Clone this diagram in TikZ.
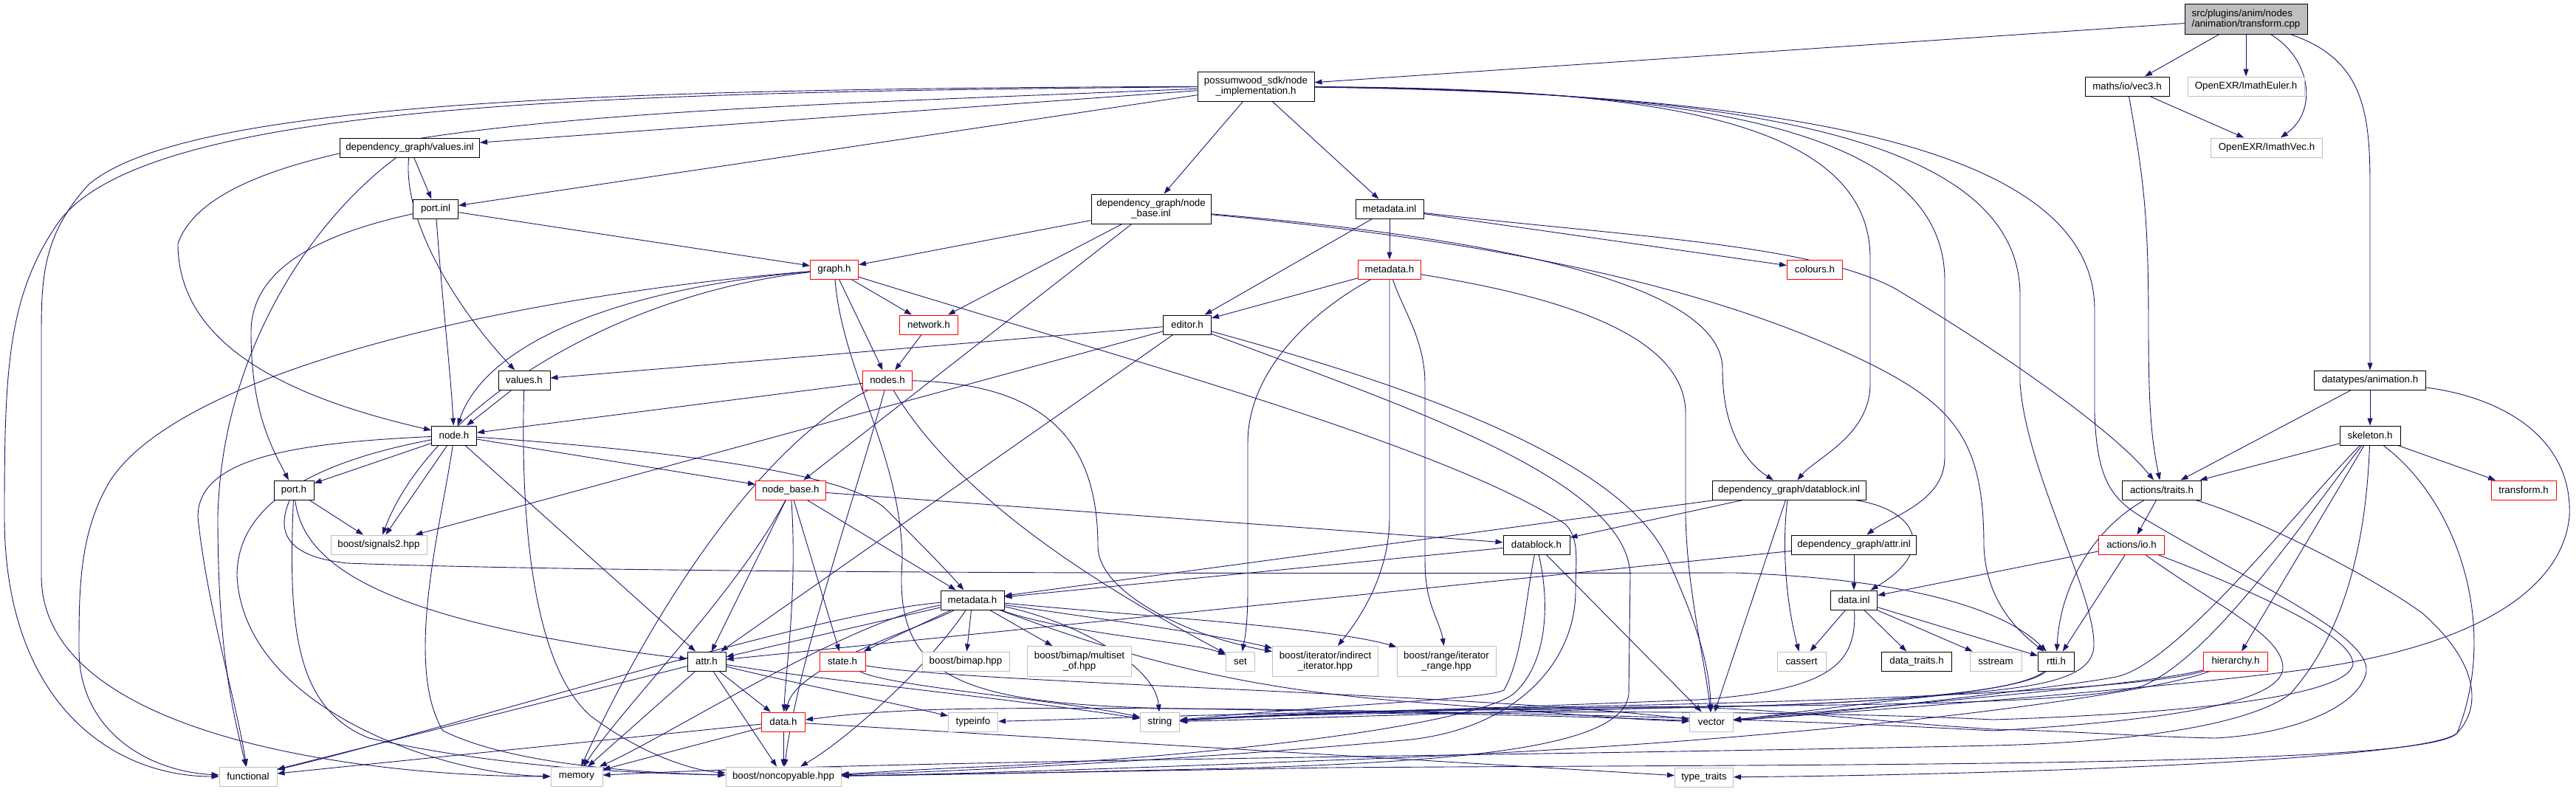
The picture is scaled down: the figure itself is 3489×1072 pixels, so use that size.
\documentclass[tikz,border=0pt]{standalone}
\usepackage{fontspec}
\setmainfont{Liberation Sans}
\usetikzlibrary{arrows.meta}
\definecolor{mblue}{HTML}{191970}
\definecolor{lgray}{HTML}{BFBFBF}
\definecolor{rootfill}{HTML}{BFBFBF}
\pgfdeclarelayer{back}
\pgfdeclarelayer{bg}
\pgfsetlayers{back,bg,main}
\newcommand{\nfont}{\fontsize{13.33pt}{14.5pt}\selectfont}
\begin{document}
\begin{tikzpicture}[x=1pt,y=-1pt,
  nb/.style={rectangle, inner sep=0pt, fill=white, font=\nfont, align=center, line width=1pt},
  blk/.style={nb, draw=black},
  gry/.style={nb, draw=lgray},
  rd/.style={nb, draw=red},
  sz/.style 2 args={minimum width=#1pt, minimum height=#2pt},
  edg/.style={draw=mblue, line width=0.9pt, -{Triangle[length=10pt,width=7pt]}}]
\begin{pgfonlayer}{back}
\fill[white] (0,0) rectangle (3489,1072);
\end{pgfonlayer}
\useasboundingbox (0,0) rectangle (3489,1072);
% nodes
\node[blk, fill=rootfill, sz={166}{41}, align=left] (root) at (3042,26) {src/plugins/anim/nodes\\/animation/transform.cpp};
\node[blk, sz={158}{40}] (nimpl) at (1701,117) {possumwood\_sdk/node\\\_implementation.h};
\node[blk, sz={114}{26}] (vec3) at (2881,117) {maths/io/vec3.h};
\node[gry, sz={158}{26}] (euler) at (3042,117) {OpenEXR/ImathEuler.h};
\node[gry, sz={151}{26}] (imathvec) at (3070,200) {OpenEXR/ImathVec.h};
\node[blk, sz={189}{26}] (valinl) at (555,200) {dependency\_graph/values.inl};
\node[blk, sz={61}{26}] (portinl) at (590,283) {port.inl};
\node[blk, sz={162}{40}] (nbinl) at (1559,283) {dependency\_graph/node\\\_base.inl};
\node[blk, sz={92}{26}] (mdinl) at (1882,283) {metadata.inl};
\node[rd, sz={65}{26}] (graph) at (1130,365) {graph.h};
\node[rd, sz={85}{26}] (mdh) at (1882,365) {metadata.h};
\node[rd, sz={75}{26}] (colours) at (2458,365) {colours.h};
\node[rd, sz={79}{26}] (network) at (1258,440) {network.h};
\node[blk, sz={65}{26}] (editor) at (1608,440) {editor.h};
\node[blk, sz={70}{26}] (values) at (710,515) {values.h};
\node[rd, sz={67}{26}] (nodes) at (1202,515) {nodes.h};
\node[blk, sz={151}{26}] (anim) at (3210,515) {datatypes/animation.h};
\node[blk, sz={61}{26}] (nodeh) at (615,590) {node.h};
\node[blk, sz={82}{26}] (skel) at (3210,590) {skeleton.h};
\node[blk, sz={54}{26}] (porth) at (398,664) {port.h};
\node[rd, sz={95}{26}] (nbh) at (1071,664) {node\_base.h};
\node[blk, sz={208}{26}] (dbinl) at (2423,664) {dependency\_graph/datablock.inl};
\node[blk, sz={107}{26}] (traits) at (2928,664) {actions/traits.h};
\node[rd, sz={88}{26}] (transh) at (3418,664) {transform.h};
\node[gry, sz={130}{26}] (sig2) at (513,738) {boost/signals2.hpp};
\node[blk, sz={90}{26}] (dbh) at (2081,738) {datablock.h};
\node[blk, sz={169}{26}] (attrinl) at (2511,738) {dependency\_graph/attr.inl};
\node[rd, sz={89}{26}] (ioh) at (2887,738) {actions/io.h};
\node[blk, sz={86}{26}] (md2) at (1317,813) {metadata.h};
\node[blk, sz={63}{26}] (datainl) at (2511,813) {data.inl};
\node[blk, sz={52}{26}] (attrh) at (957,896) {attr.h};
\node[rd, sz={62}{26}] (state) at (1141,896) {state.h};
\node[gry, sz={118}{26}] (bimap) at (1308,896) {boost/bimap.hpp};
\node[gry, sz={141}{41}] (multiset) at (1462,896) {boost/bimap/multiset\\\_of.hpp};
\node[gry, sz={39}{26}] (set) at (1680,896) {set};
\node[gry, sz={143}{41}] (indirect) at (1795,896) {boost/iterator/indirect\\\_iterator.hpp};
\node[gry, sz={134}{41}] (range) at (1959,896) {boost/range/iterator\\\_range.hpp};
\node[gry, sz={66}{26}] (cassert) at (2440,896) {cassert};
\node[blk, sz={95}{26}] (dtraits) at (2596,896) {data\_traits.h};
\node[gry, sz={70}{26}] (sstream) at (2703,896) {sstream};
\node[blk, sz={49}{26}] (rtti) at (2785,896) {rtti.h};
\node[rd, sz={87}{26}] (hier) at (3028,896) {hierarchy.h};
\node[rd, sz={59}{26}] (datah) at (1061,978) {data.h};
\node[gry, sz={67}{26}] (typeinfo) at (1318,978) {typeinfo};
\node[gry, sz={53}{26}] (string) at (1571,978) {string};
\node[gry, sz={59}{26}] (vector) at (2318,978) {vector};
\node[gry, sz={78}{26}] (functional) at (336,1052) {functional};
\node[gry, sz={70}{26}] (memory) at (781,1052) {memory};
\node[gry, sz={156}{26}] (noncopy) at (1061,1052) {boost/noncopyable.hpp};
\node[gry, sz={79}{26}] (typetraits) at (2308,1053) {type\_traits};
\begin{pgfonlayer}{bg}
% root
\draw[edg] (root) -- (nimpl);
\draw[edg] (root) -- (vec3);
\draw[edg] (root) -- (euler);
\draw[edg] (root) .. controls (3130,80) and (3140,150) .. (imathvec);
\draw[edg] (root) .. controls (3200,80) and (3210,150) .. (3210,250) -- (anim);
% vec3
\draw[edg] (vec3) -- (imathvec);
\draw[edg] (vec3) .. controls (2905,250) and (2910,300) .. (2910,450) .. controls (2910,560) and (2915,600) .. (traits);
% nimpl
\draw[edg] (nimpl) -- (valinl);
\draw[edg] (nimpl) -- (portinl);
\draw[edg] (nimpl) .. controls (900,150) and (300,160) .. (241,330) .. controls (241,480) and (420,545) .. (nodeh);
\draw[edg] (nimpl) .. controls (800,125) and (200,140) .. (80,300) .. controls (10,400) and (6,500) .. (6,700) .. controls (6,950) and (150,1052) .. (functional);
\draw[edg] (nimpl) .. controls (800,120) and (250,140) .. (120,250) .. controls (56,320) and (56,380) .. (56,460) -- (56,780) .. controls (56,1000) and (500,1052) .. (memory);
\draw[edg] (nimpl) -- (nbinl);
\draw[edg] (nimpl) -- (mdinl);
\draw[edg] (nimpl) .. controls (2200,120) and (2533,150) .. (2533,350) -- (2533,520) .. controls (2533,590) and (2460,620) .. (dbinl);
\draw[edg] (nimpl) .. controls (2250,122) and (2634,160) .. (2634,380) -- (2634,620) .. controls (2634,680) and (2560,700) .. (attrinl);
\draw[edg] (nimpl) .. controls (2300,124) and (2736,170) .. (2736,400) -- (2736,520) .. controls (2745,640) and (2836,800) .. (2836,873) .. controls (2836,915) and (2780,930) .. (2650,940) .. controls (2500,955) and (2400,970) .. (vector);
\draw[edg] (nimpl) .. controls (2350,126) and (2837,180) .. (2837,420) -- (2837,560) .. controls (2840,650) and (2860,675) .. (2900,700) .. controls (3050,790) and (3210,860) .. (3205,910) .. controls (3195,960) and (3100,995) .. (3000,1000) .. controls (2900,998) and (2800,990) .. (2700,988) .. controls (2500,975) and (2400,958) .. (2250,958) .. controls (1900,960) and (1700,970) .. (string);
% valinl, portinl
\draw[edg] (valinl) -- (portinl);
\draw[edg] (valinl) .. controls (545,300) and (620,420) .. (values);
\draw[edg] (valinl) .. controls (420,300) and (300,480) .. (295,700) .. controls (295,900) and (320,980) .. (functional);
\draw[edg] (portinl) -- (graph);
\draw[edg] (portinl) .. controls (420,320) and (340,370) .. (340,450) .. controls (340,560) and (370,610) .. (porth);
\draw[edg] (portinl) .. controls (600,420) and (610,500) .. (nodeh);
% nbinl
\draw[edg] (nbinl) -- (graph);
\draw[edg] (nbinl) -- (network);
\draw[edg] (nbinl) -- (nbh);
\draw[edg] (nbinl) .. controls (2000,320) and (2333,380) .. (2333,500) .. controls (2333,590) and (2370,630) .. (dbinl);
\draw[edg] (nbinl) .. controls (2000,325) and (2300,380) .. (2527,490) .. controls (2650,550) and (2687,600) .. (2687,740) .. controls (2690,820) and (2740,860) .. (rtti);
% mdinl
\draw[edg] (mdinl) -- (mdh);
\draw[edg] (mdinl) -- (editor);
\draw[edg] (mdinl) -- (colours);
\draw[edg] (mdinl) .. controls (2200,320) and (2450,330) .. (2565,390) .. controls (2700,470) and (2860,580) .. (traits);
% mdh
\draw[edg] (mdh) -- (editor);
\draw[edg] (mdh) .. controls (1780,420) and (1690,500) .. (1690,600) -- (1690,800) .. controls (1690,850) and (1685,870) .. (set);
\draw[edg] (mdh) -- (1882,700) .. controls (1882,780) and (1840,840) .. (indirect);
\draw[edg] (mdh) .. controls (1900,420) and (1930,460) .. (1930,520) -- (1930,760) .. controls (1930,820) and (1950,840) .. (range);
\draw[edg] (mdh) .. controls (2100,400) and (2283,450) .. (2283,560) -- (2283,700) .. controls (2285,800) and (2310,900) .. (vector);
% graph
\draw[edg] (graph) -- (network);
\draw[edg] (graph) -- (nodes);
\draw[edg] (graph) .. controls (850,390) and (660,460) .. (nodeh);
\draw[edg] (graph) .. controls (820,400) and (580,560) .. (sig2);
\draw[edg] (graph) .. controls (700,400) and (250,500) .. (150,650) .. controls (107,720) and (107,800) .. (107,880) .. controls (107,990) and (200,1045) .. (functional);
\draw[edg] (graph) .. controls (1140,500) and (1222,620) .. (1222,760) .. controls (1210,920) and (1300,955) .. (1600,960) .. controls (1900,965) and (2200,972) .. (vector);
\draw[edg] (graph) .. controls (1500,480) and (1950,600) .. (2120,710) .. controls (2140,730) and (2134,760) .. (2134,800) .. controls (2134,900) and (2050,990) .. (1900,1003) .. controls (1600,1030) and (1300,1045) .. (noncopy);
% network, nodes
\draw[edg] (network) -- (nodes);
\draw[edg] (nodes) -- (nodeh);
\draw[edg] (nodes) .. controls (1300,680) and (1500,800) .. (set);
\draw[edg] (nodes) .. controls (1420,520) and (1487,600) .. (1487,740) .. controls (1487,800) and (1600,860) .. (indirect);
\draw[edg] (nodes) .. controls (1000,620) and (850,900) .. (memory);
\draw[edg] (nodes) .. controls (1150,700) and (1080,900) .. (noncopy);
% editor
\draw[edg] (editor) -- (values);
\draw[edg] (editor) -- (sig2);
\draw[edg] (editor) -- (attrh);
\draw[edg] (editor) .. controls (1900,520) and (2200,620) .. (2260,760) .. controls (2300,850) and (2315,900) .. (vector);
\draw[edg] (editor) .. controls (1900,550) and (2206,650) .. (2208,780) -- (2206,940) .. controls (2200,1010) and (2000,1030) .. (1700,1040) .. controls (1400,1048) and (1200,1050) .. (noncopy);
% values
\draw[edg] (values) -- (nodeh);
\draw[edg] (values) .. controls (705,700) and (720,900) .. (800,970) .. controls (880,1030) and (950,1045) .. (noncopy);
% node.h
\draw[edg] (nodeh) -- (porth);
\draw[edg] (nodeh) -- (sig2);
\draw[edg] (nodeh) -- (nbh);
\draw[edg] (nodeh) -- (attrh);
\draw[edg] (nodeh) .. controls (900,610) and (1150,640) .. (1200,690) .. controls (1240,730) and (1280,770) .. (md2);
\draw[edg] (nodeh) .. controls (400,600) and (268,620) .. (268,700) .. controls (280,820) and (320,950) .. (functional);
\draw[edg] (nodeh) .. controls (430,625) and (321,680) .. (321,780) .. controls (330,960) and (600,1050) .. (memory);
\draw[edg] (nodeh) .. controls (600,700) and (545,900) .. (600,990) .. controls (700,1040) and (900,1048) .. (noncopy);
% port.h
\draw[edg] (porth) -- (sig2);
\draw[edg] (porth) .. controls (410,760) and (500,840) .. (attrh);
\draw[edg] (porth) .. controls (370,730) and (400,755) .. (470,763) .. controls (800,775) and (1500,778) .. (2350,776) .. controls (2600,785) and (2720,830) .. (rtti);
\draw[edg] (porth) .. controls (390,850) and (400,960) .. (500,1000) .. controls (700,1045) and (900,1048) .. (noncopy);
% node_base.h
\draw[edg] (nbh) -- (dbh);
\draw[edg] (nbh) -- (md2);
\draw[edg] (nbh) -- (attrh);
\draw[edg] (nbh) -- (state);
\draw[edg] (nbh) .. controls (1080,800) and (1065,900) .. (datah);
\draw[edg] (nbh) .. controls (1000,800) and (850,950) .. (memory);
% datablock.inl
\draw[edg] (dbinl) -- (dbh);
\draw[edg] (dbinl) -- (md2);
\draw[edg] (dbinl) .. controls (2595,690) and (2625,745) .. (datainl);
\draw[edg] (dbinl) .. controls (2415,720) and (2415,800) .. (cassert);
\draw[edg] (dbinl) -- (vector);
% datablock.h
\draw[edg] (dbh) -- (md2);
\draw[edg] (dbh) -- (vector);
\draw[edg] (dbh) .. controls (2065,820) and (2062,890) .. (2037,935) .. controls (2010,948) and (1800,955) .. (string);
\draw[edg] (dbh) .. controls (2100,820) and (2095,900) .. (2050,940) .. controls (1990,985) and (1600,1030) .. (1300,1040) .. controls (1200,1045) and (1160,1048) .. (noncopy);
% attr.inl, io.h
\draw[edg] (attrinl) -- (datainl);
\draw[edg] (attrinl) -- (attrh);
\draw[edg] (ioh) -- (datainl);
\draw[edg] (ioh) -- (rtti);
\draw[edg] (ioh) .. controls (3000,820) and (3092,860) .. (3092,905) .. controls (3090,950) and (2950,975) .. (2700,990) .. controls (2200,962) and (1400,955) .. (1250,962) .. controls (1150,966) and (1120,972) .. (datah);
\draw[edg] (ioh) .. controls (3050,800) and (3187,860) .. (3187,900) .. controls (3180,940) and (3000,965) .. (2700,975) .. controls (2400,960) and (1800,962) .. (string);
% traits
\draw[edg] (traits) -- (ioh);
\draw[edg] (traits) .. controls (2830,720) and (2790,800) .. (rtti);
\draw[edg] (traits) .. controls (3050,700) and (3200,773) .. (3280,830) .. controls (3360,900) and (3360,960) .. (3328,993) .. controls (3290,1030) and (2700,1050) .. (typetraits);
% data.inl
\draw[edg] (datainl) -- (cassert);
\draw[edg] (datainl) -- (dtraits);
\draw[edg] (datainl) -- (sstream);
\draw[edg] (datainl) -- (rtti);
\draw[edg] (datainl) .. controls (2515,900) and (2480,935) .. (2300,948) .. controls (2000,960) and (1700,970) .. (string);
% rtti
\draw[edg] (rtti) .. controls (2740,940) and (2500,955) .. (2300,958) .. controls (2000,965) and (1700,975) .. (string);
\draw[edg] (rtti) .. controls (2720,950) and (2400,960) .. (2000,962) .. controls (1700,965) and (1450,975) .. (typeinfo);
% hierarchy
\draw[edg] (hier) .. controls (2900,930) and (2500,960) .. (vector);
\draw[edg] (hier) .. controls (2900,935) and (2500,950) .. (2100,958) .. controls (1800,963) and (1650,972) .. (string);
\draw[edg] (hier) .. controls (2900,945) and (2400,1010) .. (1800,1030) .. controls (1500,1042) and (1250,1050) .. (noncopy);
% skeleton
\draw[edg] (skel) -- (traits);
\draw[edg] (skel) -- (transh);
\draw[edg] (skel) -- (hier);
\draw[edg] (skel) .. controls (3120,680) and (2950,900) .. (2866,917) .. controls (2800,930) and (2500,965) .. (vector);
\draw[edg] (skel) .. controls (3130,690) and (3000,890) .. (2900,930) .. controls (2800,955) and (2500,955) .. (2200,958) .. controls (1900,962) and (1700,970) .. (string);
\draw[edg] (skel) .. controls (3205,720) and (3182,850) .. (3102,940) .. controls (3050,980) and (2900,1005) .. (2700,1010) .. controls (2000,1025) and (1200,1030) .. (memory);
\draw[edg] (skel) .. controls (3330,680) and (3385,850) .. (3328,993) .. controls (3290,1040) and (2500,1035) .. (1800,1040) .. controls (1400,1047) and (1250,1050) .. (noncopy);
% animation
\draw[edg] (anim) -- (traits);
\draw[edg] (anim) -- (skel);
\draw[edg] (anim) .. controls (3400,540) and (3485,600) .. (3480,700) .. controls (3470,800) and (3350,880) .. (3100,910) .. controls (2900,935) and (2500,965) .. (vector);
% metadata.h (dependency_graph)
\draw[edg] (md2) -- (state);
\draw[edg] (md2) -- (bimap);
\draw[edg] (md2) -- (multiset);
\draw[edg] (md2) .. controls (1450,860) and (1620,870) .. (set);
\draw[edg] (md2) .. controls (1500,840) and (1650,860) .. (indirect);
\draw[edg] (md2) .. controls (1550,835) and (1800,850) .. (range);
\draw[edg] (md2) .. controls (1450,840) and (1565,900) .. (string);
\draw[edg] (md2) .. controls (1500,880) and (1650,930) .. (1900,950) .. controls (2100,965) and (2200,975) .. (vector);
\draw[edg] (md2) -- (attrh);
\draw[edg] (md2) .. controls (1250,850) and (1080,900) .. (datah);
\draw[edg] (md2) .. controls (1100,830) and (600,990) .. (functional);
\draw[edg] (md2) .. controls (1150,840) and (900,1000) .. (memory);
\draw[edg] (md2) .. controls (1260,900) and (1150,1000) .. (noncopy);
% attr.h
\draw[edg] (attrh) -- (functional);
\draw[edg] (attrh) -- (memory);
\draw[edg] (attrh) -- (noncopy);
\draw[edg] (attrh) -- (datah);
\draw[edg] (attrh) .. controls (1050,920) and (1200,950) .. (typeinfo);
\draw[edg] (attrh) .. controls (1100,920) and (1400,950) .. (string);
% state.h
\draw[edg] (state) .. controls (1200,930) and (1450,950) .. (string);
\draw[edg] (state) .. controls (1300,925) and (2000,940) .. (vector);
% data.h
\draw[edg] (datah) -- (functional);
\draw[edg] (datah) -- (memory);
\draw[edg] (datah) -- (noncopy);
\draw[edg] (datah) -- (typetraits);
\end{pgfonlayer}
\end{tikzpicture}
\end{document}
